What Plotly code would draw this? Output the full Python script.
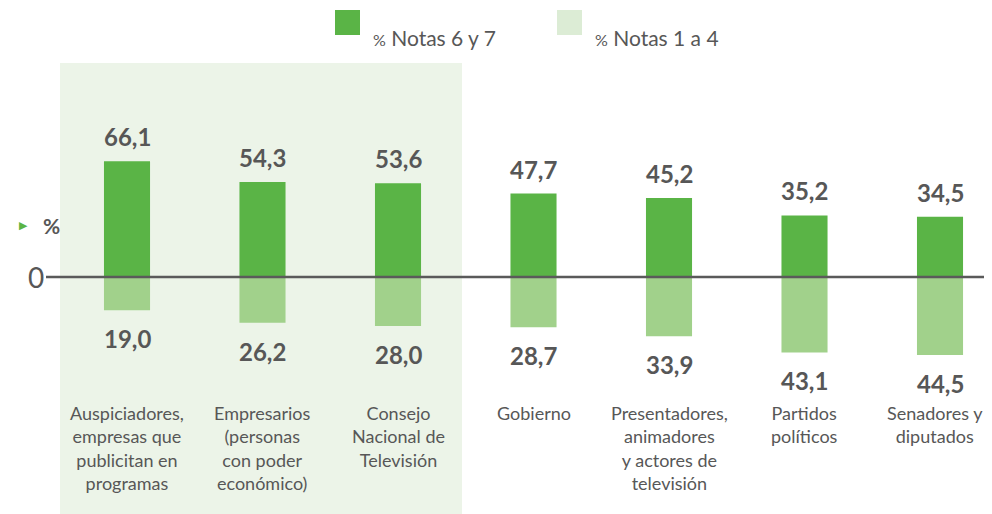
import plotly.graph_objects as go

categories = [
    "Auspiciadores,<br>empresas que<br>publicitan en<br>programas",
    "Empresarios<br>(personas<br>con poder<br>económico)",
    "Consejo<br>Nacional de<br>Televisión",
    "Gobierno",
    "Presentadores,<br>animadores<br>y actores de<br>televisión",
    "Partidos<br>políticos",
    "Senadores y<br>diputados",
]
notas_6_7 = [66.1, 54.3, 53.6, 47.7, 45.2, 35.2, 34.5]
notas_1_4 = [19.0, 26.2, 28.0, 28.7, 33.9, 43.1, 44.5]
legend_labels = ["Notas 6 y 7", "Notas 1 a 4"]

DARK = "#5ab446"
LIGHT = "#a1d18b"
LEGEND_LIGHT = "#dcecd5"
BG_HL = "#ecf4e8"
TXT = "#575757"

# page offset (browser body margin) -> figure is drawn 8px in from the window edge
OFF = 8
W, H = 992 - 2 * OFF, 514 - OFF
def xp(px):
    return (px - OFF) / W
def yp(py):
    return 1 - (py - OFF) / H

STEP = 135.5          # px between categories
X0 = 127 - OFF        # px of first category centre
ZERO = 277 - OFF      # px of zero line
SCALE = 1.75          # px per unit

x = list(range(len(categories)))
neg = [-v for v in notas_1_4]

fig = go.Figure()
fig.add_trace(go.Bar(x=x, y=notas_6_7, width=0.34, marker=dict(color=DARK, line=dict(width=0)),
                     name=legend_labels[0], showlegend=False, hoverinfo="skip"))
fig.add_trace(go.Bar(x=x, y=neg, width=0.34, marker=dict(color=LIGHT, line=dict(width=0)),
                     name=legend_labels[1], showlegend=False, hoverinfo="skip"))

# highlight band behind first three categories
fig.add_shape(type="rect", xref="paper", yref="paper", x0=xp(60), x1=xp(462), y0=0, y1=yp(63),
              fillcolor=BG_HL, line=dict(width=0), layer="below")
# zero line
fig.add_shape(type="line", xref="paper", yref="y", x0=xp(46), x1=1, y0=0, y1=0,
              line=dict(color="#5a5a5a", width=2.5))

def fmt(v):
    return f"{v:.1f}".replace(".", ",")

val_font = dict(family="Lato, Open Sans, sans-serif", size=24, color=TXT, weight=700)
for i, v in enumerate(notas_6_7):
    fig.add_annotation(x=i, y=v, text=fmt(v), showarrow=False, yanchor="bottom", yshift=8, font=val_font)
for i, v in enumerate(notas_1_4):
    fig.add_annotation(x=i, y=-v, text=fmt(v), showarrow=False, yanchor="top", yshift=-12, font=val_font)

cat_font = dict(family="Lato, Noto Sans, sans-serif", size=18, color=TXT)
for i, c in enumerate(categories):
    fig.add_annotation(x=i, y=yp(400), yref="paper", text=c, showarrow=False, yanchor="top",
                       align="center", font=cat_font, xshift=-5 if i == len(categories) - 1 else 0)

# left axis markers
fig.add_annotation(x=xp(17), xref="paper", y=yp(225), yref="paper", text="▶", showarrow=False,
                   font=dict(size=11, color=DARK))
fig.add_annotation(x=xp(41), xref="paper", y=yp(226), yref="paper", text="%", showarrow=False,
                   font=dict(family="Lato, sans-serif", size=21, color=TXT, weight=700))
fig.add_annotation(x=xp(46), xref="paper", xanchor="right", y=0, yref="y", text="0", showarrow=False,
                   font=dict(family="Lato, sans-serif", size=28, color=TXT))

# legend (custom)
leg_font = dict(family="Lato, sans-serif", size=21, color=TXT)
for (x0, col, lab) in [(335, DARK, legend_labels[0]), (557, LEGEND_LIGHT, legend_labels[1])]:
    fig.add_shape(type="rect", xref="paper", yref="paper", x0=xp(x0), x1=xp(x0 + 25),
                  y0=yp(35), y1=yp(10), fillcolor=col, line=dict(width=0))
    fig.add_annotation(x=xp(x0 + 36), xref="paper", y=yp(23), yref="paper", xanchor="left",
                       text="<span style='font-size:16px'>%</span> " + lab, showarrow=False, font=leg_font)

fig.update_layout(
    width=W, height=H, margin=dict(l=0, r=0, t=0, b=0),
    paper_bgcolor="white", plot_bgcolor="rgba(0,0,0,0)",
    barmode="overlay", showlegend=False,
    xaxis=dict(range=[-X0 / STEP, (W - X0) / STEP], visible=False, fixedrange=True),
    yaxis=dict(range=[-(H - ZERO) / SCALE, ZERO / SCALE], visible=False, fixedrange=True),
)
fig.write_html("out.html")
